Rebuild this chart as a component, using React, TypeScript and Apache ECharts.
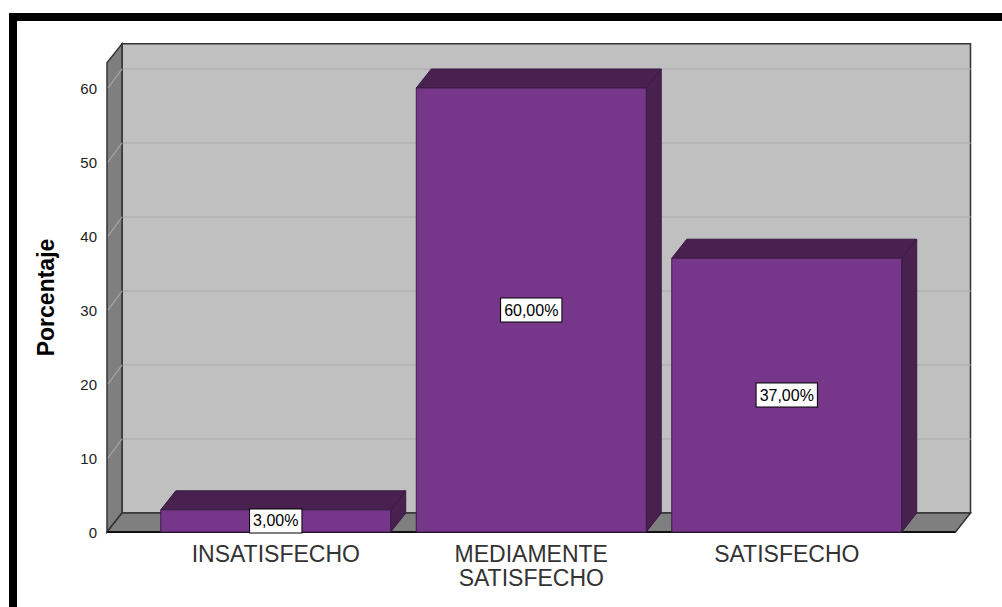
import React, { useEffect, useRef } from 'react';
import * as echarts from 'echarts';

// ---- data ----
const categories = ['INSATISFECHO', 'MEDIAMENTE\nSATISFECHO', 'SATISFECHO'];
const percentages = [3, 60, 37];
const yTicks = [0, 10, 20, 30, 40, 50, 60];
const yAxisTitle = 'Porcentaje';

// ---- layout / style constants ----
const DX = 15;
const DY = -19;
const WALL_TOP = 63.4;
const WALL_PAD = 41;
const BAR_RATIO = 0.9;
const FONT = "'Liberation Sans', Arial, sans-serif";

const FRONT = '#76378B';
const DARK = '#48214F';
const BAR_EDGE = '#3A1A44';
const BACK = '#C0C0C0';
const SIDE = '#7F7F7F';
const EDGE = '#333333';
const GRID_BACK = '#B0B0B0';
const GRID_SIDE = '#A8A8A8';

const fmt = (v: number) => v.toFixed(2).replace('.', ',') + '%';

function renderWalls(_params: any, api: any) {
  const band = api.size([1, 0])[0];
  const x0 = api.coord([0, 0])[0] - band / 2 - WALL_PAD;
  const x1 = api.coord([categories.length - 1, 0])[0] + band / 2 + WALL_PAD;
  const yb = api.coord([0, 0])[1];
  const yt = api.coord([0, WALL_TOP])[1];
  const children: any[] = [];
  children.push({
    type: 'rect',
    shape: { x: x0 + DX, y: yt + DY, width: x1 - x0, height: yb - yt },
    style: { fill: BACK, stroke: EDGE, lineWidth: 1.5 },
  });
  yTicks.slice(1).forEach((v) => {
    const y = api.coord([0, v])[1];
    children.push({
      type: 'line',
      shape: { x1: x0 + DX, y1: y + DY, x2: x1 + DX, y2: y + DY },
      style: { stroke: GRID_BACK, lineWidth: 1.5 },
    });
  });
  children.push({
    type: 'polygon',
    shape: { points: [[x0, yb], [x0, yt], [x0 + DX, yt + DY], [x0 + DX, yb + DY]] },
    style: { fill: SIDE, stroke: EDGE, lineWidth: 1.5 },
  });
  yTicks.slice(1).forEach((v) => {
    const y = api.coord([0, v])[1];
    children.push({
      type: 'line',
      shape: { x1: x0 + 1, y1: y, x2: x0 + DX, y2: y + DY },
      style: { stroke: GRID_SIDE, lineWidth: 1.2 },
    });
  });
  children.push({
    type: 'polygon',
    shape: { points: [[x0, yb], [x1, yb], [x1 + DX, yb + DY], [x0 + DX, yb + DY]] },
    style: { fill: SIDE, stroke: EDGE, lineWidth: 1.5 },
  });
  children.push({
    type: 'line',
    shape: { x1: x0, y1: yb, x2: x1, y2: yb },
    style: { stroke: '#111', lineWidth: 2 },
  });
  return { type: 'group', children };
}

function renderBar(_params: any, api: any) {
  const cat = api.value(0);
  const v = api.value(1);
  const [cx, y1] = api.coord([cat, v]);
  const y0 = api.coord([cat, 0])[1];
  const w = api.size([1, 0])[0] * BAR_RATIO;
  const xl = cx - w / 2;
  const xr = cx + w / 2;
  return {
    type: 'group',
    children: [
      {
        type: 'polygon',
        shape: { points: [[xl, y1], [xr, y1], [xr + DX, y1 + DY], [xl + DX, y1 + DY]] },
        style: { fill: DARK, stroke: BAR_EDGE, lineWidth: 1 },
      },
      {
        type: 'polygon',
        shape: { points: [[xr, y1], [xr + DX, y1 + DY], [xr + DX, y0 + DY], [xr, y0]] },
        style: { fill: DARK, stroke: BAR_EDGE, lineWidth: 1 },
      },
      {
        type: 'rect',
        shape: { x: xl, y: y1, width: w, height: y0 - y1 },
        style: { fill: FRONT, stroke: BAR_EDGE, lineWidth: 1 },
      },
      {
        type: 'text',
        x: cx,
        y: (y0 + y1) / 2,
        style: {
          text: fmt(v),
          align: 'center',
          verticalAlign: 'middle',
          fill: '#000',
          font: `16px ${FONT}`,
          backgroundColor: '#fff',
          borderColor: '#000',
          borderWidth: 1,
          padding: [4, 3, 3, 3],
        },
      },
    ],
  };
}

export default function App() {
  const ref = useRef<HTMLDivElement>(null);
  useEffect(() => {
    if (!ref.current) return;
    const chart = echarts.init(ref.current, undefined, { renderer: 'svg' });
    chart.setOption({
      animation: false,
      backgroundColor: '#fff',
      grid: { left: 148, right: 87.5, top: 88, bottom: 75 },
      xAxis: {
        type: 'category',
        data: categories,
        axisLine: { show: false },
        axisTick: { show: false },
        splitLine: { show: false },
        axisLabel: {
          fontSize: 23,
          lineHeight: 24,
          fontFamily: FONT,
          color: '#333',
          margin: 10,
          interval: 0,
          verticalAlign: 'top',
        },
      },
      yAxis: {
        type: 'value',
        min: 0,
        max: 60,
        interval: 10,
        offset: WALL_PAD,
        axisLine: { show: false },
        axisTick: { show: false },
        splitLine: { show: false },
        axisLabel: { fontSize: 15, fontFamily: FONT, color: '#222', margin: 10 },
      },
      graphic: [
        {
          type: 'rect',
          shape: { x: 13, y: 17, width: 1200, height: 800 },
          style: { fill: 'none', stroke: '#000', lineWidth: 8 },
          z: 100,
        },
        {
          type: 'text',
          x: 46,
          y: 297.5,
          rotation: Math.PI / 2,
          style: {
            text: yAxisTitle,
            font: `bold 23px ${FONT}`,
            fill: '#000',
            align: 'center',
            verticalAlign: 'middle',
          },
        },
      ],
      series: [
        {
          type: 'custom',
          renderItem: renderWalls,
          data: [[0, 0]],
          encode: { x: 0, y: 1 },
          z: 1,
          silent: true,
        },
        {
          type: 'custom',
          renderItem: renderBar,
          data: percentages.map((v, i) => [i, v]),
          encode: { x: 0, y: 1 },
          z: 2,
        },
      ],
    });
    return () => chart.dispose();
  }, []);
  return (
    <div
      ref={ref}
      style={{ position: 'fixed', left: 0, top: 0, width: 1002, height: 607 }}
    />
  );
}
